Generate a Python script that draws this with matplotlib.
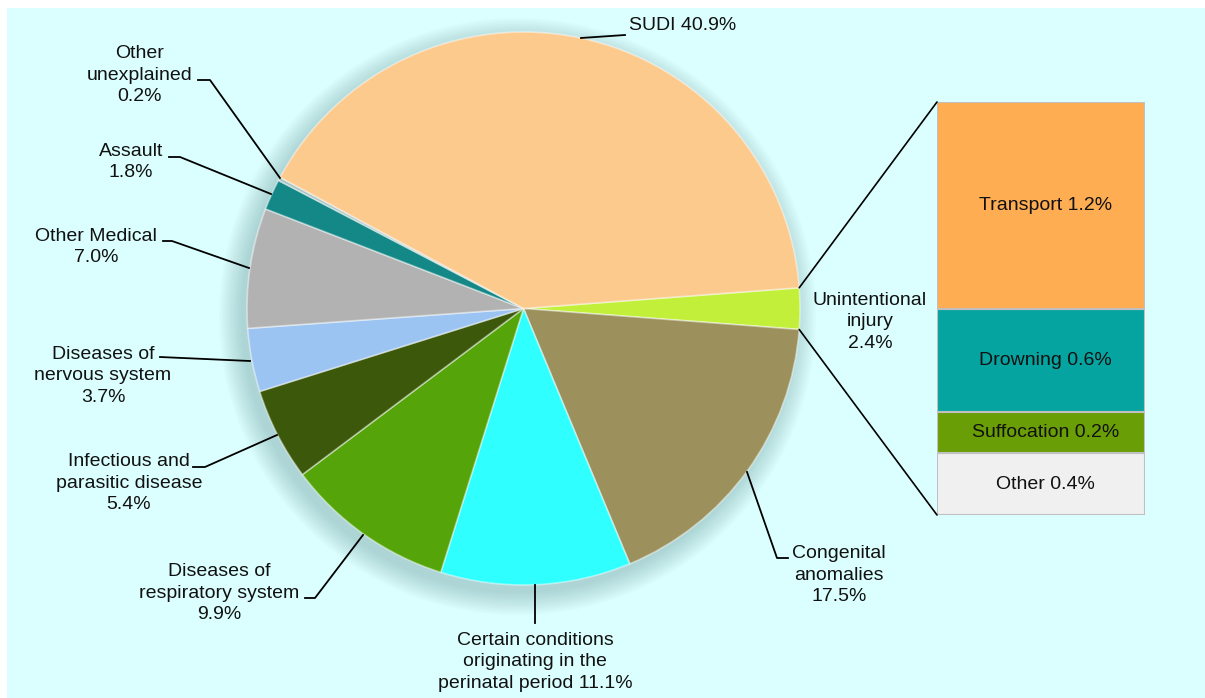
import numpy as np
import matplotlib
matplotlib.use('Agg')
import matplotlib.pyplot as plt
from matplotlib.patches import Rectangle, Circle, ConnectionPatch

plt.rcParams['font.family'] = ['Liberation Sans', 'DejaVu Sans']

# pie data (clockwise from the injury slice)
pie_names = ['Unintentional\ninjury', 'Congenital\nanomalies',
             'Certain conditions\noriginating in the\nperinatal period',
             'Diseases of\nrespiratory system', 'Infectious and\nparasitic disease',
             'Diseases of\nnervous system', 'Other Medical', 'Assault',
             'Other\nunexplained', 'SUDI']
pie_values = [2.4, 17.5, 11.1, 9.9, 5.4, 3.7, 7.0, 1.8, 0.2, 40.9]
pie_colors = ['#C2F03A', '#9C915C', '#30FFFF', '#55A50A', '#3C580A',
              '#9CC4F2', '#B2B2B2', '#138886', '#A8C4C4', '#FDCA8E']
inline_value = ['SUDI', 'Certain conditions\noriginating in the\nperinatal period']

# breakdown of unintentional injury (bottom to top)
bar_names = ['Other', 'Suffocation', 'Drowning', 'Transport']
bar_values = [0.36, 0.24, 0.6, 1.2]
bar_colors = ['#F0F0F0', '#6A9E06', '#06A4A0', '#FFAD52']

W, H = 1205, 698
fig = plt.figure(figsize=(W / 100, H / 100), dpi=100, facecolor='white')
ax = fig.add_axes([0, 0, 1, 1])
ax.set_xlim(0, W)
ax.set_ylim(0, H)
ax.axis('off')
ax.add_patch(Rectangle((7, 0), W - 7, H - 8, facecolor='#DBFFFF', edgecolor='none', zorder=0))

cx, cy, r = 523.5, H - 308.5, 276.5

# soft shadow round the pie
for i in range(12):
    ax.add_patch(Circle((cx - 6, cy - 8), r + i * 2.0, facecolor='#1F4F4F',
                        edgecolor='none', alpha=0.018, zorder=1))

wedges, _ = ax.pie(pie_values, colors=pie_colors, startangle=4.3, counterclock=False,
                   center=(cx, cy), radius=r, frame=True,
                   wedgeprops=dict(edgecolor=(1, 1, 1, 0.45), linewidth=1.2))
for w in wedges:
    w.set_zorder(2)
ax.set_xlim(0, W)
ax.set_ylim(0, H)
ax.set_aspect('auto')

# label text position (image px) and leader line
label_pos = {
    'SUDI': ((629, 25, 'left'), [(581, 38), (625, 35)]),
    'Other\nunexplained': ((140, 75, 'center'), [(198, 80), (210, 80), (280, 178)]),
    'Assault': ((131, 162, 'center'), [(169, 157), (180, 157), (271, 194)]),
    'Other Medical': ((96, 247, 'center'), [(163, 241), (172, 241), (249, 268)]),
    'Diseases of\nnervous system': ((103, 376, 'center'), [(160, 357), (250, 361)]),
    'Infectious and\nparasitic disease': ((129, 483, 'center'), [(193, 467), (205, 467), (277, 435)]),
    'Diseases of\nrespiratory system': ((219, 593, 'center'), [(305, 598), (315, 598), (363, 535)]),
    'Certain conditions\noriginating in the\nperinatal period': ((535, 662, 'center'), [(535, 585), (535, 623)]),
    'Congenital\nanomalies': ((839, 575, 'center'), [(747, 472), (777, 558), (788, 558)]),
    'Unintentional\ninjury': ((870, 322, 'center'), []),
}

for name, v in zip(pie_names, pie_values):
    (tx, ty, ha), line = label_pos[name]
    sep = ' ' if name in inline_value else '\n'
    ax.text(tx, H - ty, f'{name}{sep}{v:.1f}%', ha=ha, va='center', multialignment='center',
            fontsize=14, color='#111111', linespacing=1.38, zorder=5)
    if line:
        xs = [p[0] for p in line]
        ys = [H - p[1] for p in line]
        ax.plot(xs, ys, color='black', lw=1.3, zorder=4)

# bar of pie
bx0, bx1, by0, by1 = 937, 1145, 102, 515
bax = fig.add_axes([bx0 / W, (H - by1) / H, (bx1 - bx0) / W, (by1 - by0) / H])
bax.set_xlim(-0.5, 0.5)
bax.set_ylim(0, sum(bar_values))
bax.axis('off')
bottom = 0
for name, v, c in zip(bar_names, bar_values, bar_colors):
    bax.bar(0, v, bottom=bottom, width=1, color=c, edgecolor='#C0C0C0', linewidth=1.5)
    bax.text(0.02, bottom + v / 2, f'{name} {v:.1f}%', ha='center', va='center',
             fontsize=14, color='#111111')
    bottom += v

# connection lines from injury slice to bar
w0 = wedges[0]
for ang, corner in [(w0.theta2, (-0.5, sum(bar_values))), (w0.theta1, (-0.5, 0))]:
    px = cx + r * np.cos(np.radians(ang))
    py = cy + r * np.sin(np.radians(ang))
    con = ConnectionPatch(xyA=(px, py), coordsA=ax.transData, xyB=corner, coordsB=bax.transData,
                          color='black', lw=1.2, zorder=3)
    fig.add_artist(con)

fig.savefig('out.png', dpi=100, facecolor='white')
